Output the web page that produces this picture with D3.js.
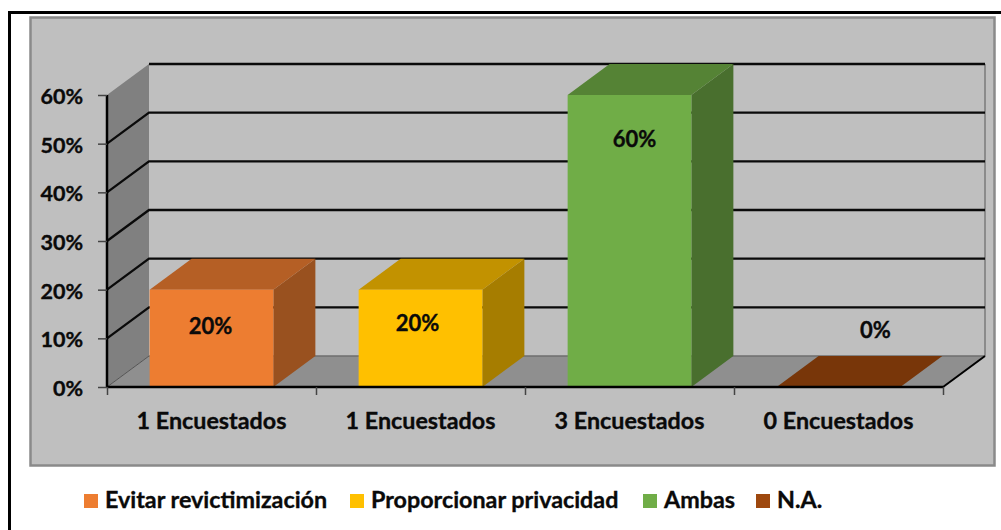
<!DOCTYPE html>
<html>
<head>
<meta charset="utf-8">
<script src="https://cdn.jsdelivr.net/npm/d3@7"></script>
<style>
  html, body { margin: 0; padding: 0; background: #fff; }
  svg { display: block; }
  text { font-family: Lato, "Open Sans", sans-serif; font-weight: 700; fill: #0a0a0a; stroke: #0a0a0a; stroke-width: 0.35px; }
</style>
</head>
<body>
<script>
var categories = ["1 Encuestados", "1 Encuestados", "3 Encuestados", "0 Encuestados"];
var values = [0.2, 0.2, 0.6, 0];
var seriesNames = ["Evitar revictimización", "Proporcionar privacidad", "Ambas", "N.A."];
var seriesColors = ["#ed7d31", "#ffc000", "#70ad47", "#9e480e"];
var topColors = ["#b55f25", "#c29200", "#558335", "#783609"];
var sideColors = ["#99511f", "#a67d00", "#496f2e", "#672e08"];
var yTicks = [0, 0.1, 0.2, 0.3, 0.4, 0.5, 0.6];

var width = 1001, height = 530;
var left = 107, right = 943, floorY = 387, topY = 95;
var depthX = 42, depthY = -31;
var fontSize = "23.3px";

var svg = d3.select("body").append("svg")
  .attr("width", width)
  .attr("height", height);

// outer frame
svg.append("path")
  .attr("d", "M9.5,530V12.5H1001")
  .attr("fill", "none")
  .attr("stroke", "#000")
  .attr("stroke-width", 3);

// chart area
svg.append("rect")
  .attr("x", 30.5)
  .attr("y", 17.5)
  .attr("width", 964)
  .attr("height", 448)
  .attr("fill", "#bfbfbf")
  .attr("stroke", "#8a8a8a")
  .attr("stroke-width", 2.5);

var x = d3.scaleBand().domain(d3.range(categories.length)).range([left, right]);
var y = d3.scaleLinear().domain([0, 0.6]).range([floorY, topY]);
var barWidth = x.bandwidth() * 0.592;
var barPad = (x.bandwidth() - barWidth) / 2;

function poly(points) {
  return "M" + points.map(function(p) { return p.join(","); }).join("L") + "Z";
}

// side wall
svg.append("path")
  .attr("d", poly([[left, floorY], [left + depthX, floorY + depthY], [left + depthX, topY + depthY], [left, topY]]))
  .attr("fill", "#808080");

// floor
svg.append("path")
  .attr("d", poly([[left, floorY], [left + depthX, floorY + depthY], [right + depthX, floorY + depthY], [right, floorY]]))
  .attr("fill", "#8f8f8f");

// right edge of back wall
svg.append("line")
  .attr("x1", right + depthX).attr("x2", right + depthX)
  .attr("y1", topY + depthY).attr("y2", floorY + depthY)
  .attr("stroke", "#7a7a7a")
  .attr("stroke-width", 1.5);

svg.append("line")
  .attr("x1", left + depthX).attr("x2", right + depthX)
  .attr("y1", floorY + depthY).attr("y2", floorY + depthY)
  .attr("stroke", "#6e6e6e")
  .attr("stroke-width", 1.5);

// gridlines, bent along the side wall
var grid = svg.append("g");
yTicks.slice(1).forEach(function(t) {
  var gy = y(t);
  var isTop = t === 0.6;
  grid.append("path")
    .attr("d", isTop
      ? "M" + (left + depthX) + "," + (gy + depthY) + "H" + (right + depthX)
      : "M" + left + "," + gy + "L" + (left + depthX) + "," + (gy + depthY) + "H" + (right + depthX))
    .attr("fill", "none")
    .attr("stroke", "#0a0a0a")
    .attr("stroke-width", 2.3);
});
grid.append("line")
  .attr("x1", left).attr("y1", floorY)
  .attr("x2", left + depthX).attr("y2", floorY + depthY)
  .attr("stroke", "#555")
  .attr("stroke-width", 1);

// bars
var bars = svg.append("g").selectAll("g")
  .data(values)
  .enter().append("g");

bars.append("path")
  .attr("fill", function(d, i) { return sideColors[i]; })
  .attr("d", function(d, i) {
    var r = x(i) + barPad + barWidth + depthX;
    return poly([[r - depthX, y(d)], [r, y(d) + depthY], [r, floorY + depthY], [r - depthX, floorY]]);
  });

bars.append("path")
  .attr("fill", function(d, i) { return topColors[i]; })
  .attr("d", function(d, i) {
    var l = x(i) + barPad;
    return poly([[l, y(d)], [l + depthX, y(d) + depthY], [l + barWidth + depthX, y(d) + depthY], [l + barWidth, y(d)]]);
  });

bars.append("rect")
  .attr("fill", function(d, i) { return seriesColors[i]; })
  .attr("x", function(d, i) { return x(i) + barPad; })
  .attr("y", function(d) { return y(d); })
  .attr("width", barWidth)
  .attr("height", function(d) { return floorY - y(d); });

// right floor edge
svg.append("line")
  .attr("x1", right).attr("y1", floorY)
  .attr("x2", right + depthX).attr("y2", floorY + depthY)
  .attr("stroke", "#000")
  .attr("stroke-width", 2);

// axes
var yAxis = d3.axisLeft(y)
  .tickValues(yTicks)
  .tickFormat(d3.format(".0%"))
  .tickSize(9)
  .tickPadding(15);
var gy = svg.append("g").attr("transform", "translate(" + left + ",0)").call(yAxis);
gy.select(".domain").attr("stroke", "#000").attr("stroke-width", 2.5).attr("d", "M0," + topY + "V" + floorY);
gy.selectAll(".tick line").attr("stroke", "#444").attr("stroke-width", 1.5);
gy.selectAll("text")
  .attr("dy", "0.72em")
  .attr("y", -7)
  .style("font-size", "21.5px")
  .style("font-family", "Lato, sans-serif")
  .style("fill", "#0a0a0a");

var xTickScale = d3.scaleLinear().domain([0, categories.length]).range([left, right]);
var xAxis = d3.axisBottom(xTickScale)
  .tickValues(d3.range(categories.length + 1))
  .tickFormat("")
  .tickSize(8);
var gx = svg.append("g").attr("transform", "translate(0," + floorY + ")").call(xAxis);
gx.select(".domain").attr("stroke", "#000").attr("stroke-width", 2.5).attr("d", "M" + left + ",0H" + right);
gx.selectAll(".tick line").attr("stroke", "#444").attr("stroke-width", 1.5);

svg.append("g").selectAll("text")
  .data(categories)
  .enter().append("text")
    .attr("x", function(d, i) { return x(i) + x.bandwidth() / 2; })
    .attr("y", 429)
    .attr("text-anchor", "middle")
    .style("font-size", fontSize)
    .text(function(d) { return d; });

// value labels were moved by hand in the original
var labelNudge = [[-1, 44], [-3, 41], [5, 52], [37, -49]];
svg.append("g").selectAll("text")
  .data(values)
  .enter().append("text")
    .attr("x", function(d, i) { return x(i) + x.bandwidth() / 2 + labelNudge[i][0]; })
    .attr("y", function(d, i) { return y(d) + labelNudge[i][1]; })
    .attr("text-anchor", "middle")
    .style("font-size", "22px")
    .text(d3.format(".0%"));

// legend
var legendX = [84, 350, 643, 756];
var legend = svg.append("g").selectAll("g")
  .data(seriesNames)
  .enter().append("g")
    .attr("transform", function(d, i) { return "translate(" + legendX[i] + ",494)"; });
legend.append("rect")
  .attr("width", 14)
  .attr("height", 14)
  .attr("fill", function(d, i) { return seriesColors[i]; });
legend.append("text")
  .attr("x", 21)
  .attr("y", 14)
  .style("font-size", fontSize)
  .text(function(d) { return d; });
</script>
</body>
</html>
